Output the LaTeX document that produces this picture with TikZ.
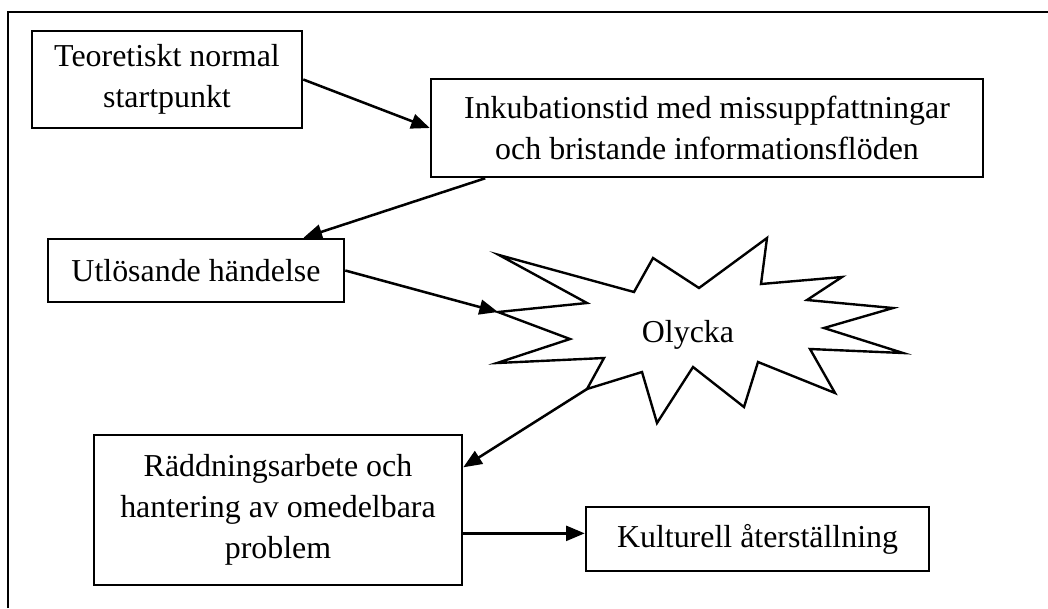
\documentclass[tikz,border=0pt]{standalone}
\usepackage{fontspec}
\setmainfont{Liberation Serif}
\usetikzlibrary{arrows.meta,calc}

\tikzset{
  box/.style={draw, line width=.95pt, align=center, inner sep=0pt,
    font=\fontsize{12}{15.5}\selectfont},
  pil/.style={line width=.95pt, -{Triangle[length=7pt,width=5.6pt]}}
}

\begin{document}
\begin{tikzpicture}[x=.376pt, y=-.376pt]
\useasboundingbox (0,0) rectangle (1048,608);
% \draw [help lines, step=50] (0,0) grid (1048,608);

\draw [line width=.95pt] (8,608) -- (8,12) -- (1048,12);

\node [box, minimum width=270*.376pt, minimum height=97*.376pt] (start) at (167,79.5) {Teoretiskt normal\\startpunkt};
\node [box, minimum width=552*.376pt, minimum height=98*.376pt] (inkub) at (707,128) {Inkubationstid med missuppfattningar\\och bristande informationsflöden};
\node [box, minimum width=296*.376pt, minimum height=63*.376pt] (utlos) at (196,270.5) {Utlösande händelse};
\node [box, minimum width=368*.376pt, minimum height=150*.376pt] (radd) at (278,510) {Räddningsarbete och\\hantering av omedelbara\\problem};
\node [box, minimum width=343*.376pt, minimum height=64*.376pt] (kultur) at (757.5,539) {Kulturell återställning};

% olyckan
\draw [line width=.9pt] (499,255) -- (634,292) -- (653,258) -- (699,288) -- (767,238)
  -- (761,284) -- (842,277) -- (807,300) -- (893,308) -- (824,328) -- (903,353)
  -- (810,349) -- (835,393) -- (758,362) -- (744,407) -- (693,367) -- (657,423)
  -- (642,372) -- (587,389) -- (604,358) -- (497,363) -- (570,339) -- (498,312)
  -- (587,303) -- cycle;
\node [font=\fontsize{12}{15.5}\selectfont] (olycka) at (688,335) {Olycka};
\coordinate (olyW) at (498,312);
\coordinate (olySW) at (587,389);

\draw [pil] (start.east) -- (inkub.west);
\draw [pil] ($(inkub.south west)!.1!(inkub.south east)$) -- ($(utlos.north west)!.86!(utlos.north east)$);
\draw [pil] (utlos.east) -- (olyW);
\draw [pil] (olySW) -- ($(radd.north east)!.22!(radd.south east)$);
\coordinate (raddE) at ($(radd.north east)!.653!(radd.south east)$);
\draw [pil] (raddE) -- (raddE -| kultur.west);
\end{tikzpicture}
\end{document}
